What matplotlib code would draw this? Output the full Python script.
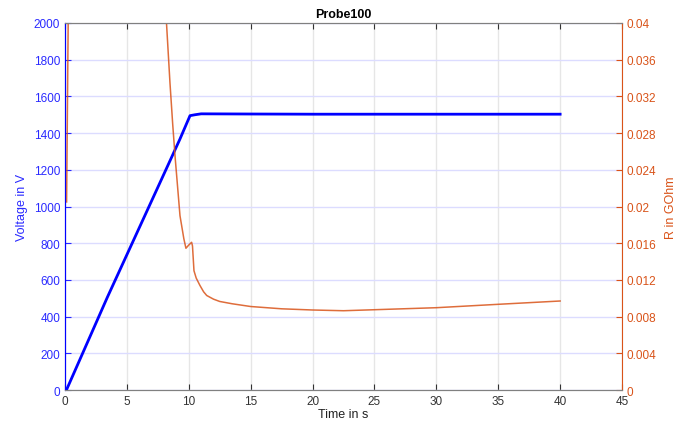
import numpy as np
import matplotlib.pyplot as plt

plt.rcParams['font.family'] = ['Liberation Sans', 'DejaVu Sans']

BLUE = '#0000ff'
BLUE_TXT = '#2a2aff'
ORANGE = '#d95319'

# voltage trace (left axis)
t_volt = [0.0, 0.13, 3.42, 7.81, 9.29, 10.1, 10.5, 11.0, 15.0, 20.0, 30.0, 40.0]
voltage = [0, 2, 505, 1150, 1368, 1495, 1500, 1505, 1504, 1503, 1503, 1503]

# resistance trace (right axis)
t_res = [0.13, 0.27, 0.4, 8.2, 8.48, 8.7, 8.89, 9.29, 9.6, 9.77, 10.0, 10.23,
         10.3, 10.42, 10.6, 10.9, 11.2, 11.45, 12.0, 12.5, 13.5, 15.0, 17.5,
         20.0, 22.5, 25.0, 30.0, 35.0, 40.0]
resistance = [0.0205, 0.042, 0.2, 0.04, 0.0335, 0.029, 0.0255, 0.019, 0.0165,
              0.01545, 0.0158, 0.0161, 0.0157, 0.013, 0.0122, 0.0114, 0.0107,
              0.0103, 0.0099, 0.00965, 0.0094, 0.0091, 0.00885, 0.00872,
              0.00864, 0.00875, 0.00897, 0.00934, 0.0097]

fig = plt.figure(figsize=(6.87, 4.27), dpi=100)
ax = fig.add_axes([0.0946, 0.0843, 0.8108, 0.8595])
ax2 = ax.twinx()

ax.plot(t_volt, voltage, color=BLUE, lw=2, zorder=3)
ax2.plot(t_res, resistance, color=ORANGE, lw=1.1, alpha=0.85)

ax.set_xlim(0, 45)
ax.set_ylim(0, 2000)
ax2.set_ylim(0, 0.04)
ax.set_xticks(np.arange(0, 46, 5))
ax.set_yticks(np.arange(0, 2001, 200))
ax2.set_yticks(np.arange(0, 0.0401, 0.004))
ax2.set_yticklabels(['0', '0.004', '0.008', '0.012', '0.016', '0.02',
                     '0.024', '0.028', '0.032', '0.036', '0.04'])

ax.grid(axis='y', color='#dcdcff', lw=1)
ax.grid(axis='x', color='#e6e6e6', lw=1)
ax.set_axisbelow(True)

ax.tick_params(axis='y', colors=BLUE_TXT, direction='in', length=4, labelsize=8.5)
ax.tick_params(axis='x', colors='#333333', direction='in', length=4, labelsize=8.5, top=True)
ax2.tick_params(axis='y', colors=ORANGE, direction='in', length=4, labelsize=8.5)

ax.spines['left'].set_color(BLUE)
ax2.spines['left'].set_color(BLUE)
ax2.spines['right'].set_color(ORANGE)
for a in (ax, ax2):
    a.spines['top'].set_color('#808080')
    a.spines['bottom'].set_color('#808080')
ax.spines['right'].set_visible(False)

ax.set_xlabel('Time in s', fontsize=9, color='#222222', labelpad=1)
ax.set_ylabel('Voltage in V', fontsize=9, color=BLUE_TXT, labelpad=4)
ax2.set_ylabel('R in GOhm', fontsize=9, color=ORANGE, labelpad=6)
ax.set_title('Probe100', fontsize=9, fontweight='bold', pad=4)

fig.savefig('out.png', dpi=100)
